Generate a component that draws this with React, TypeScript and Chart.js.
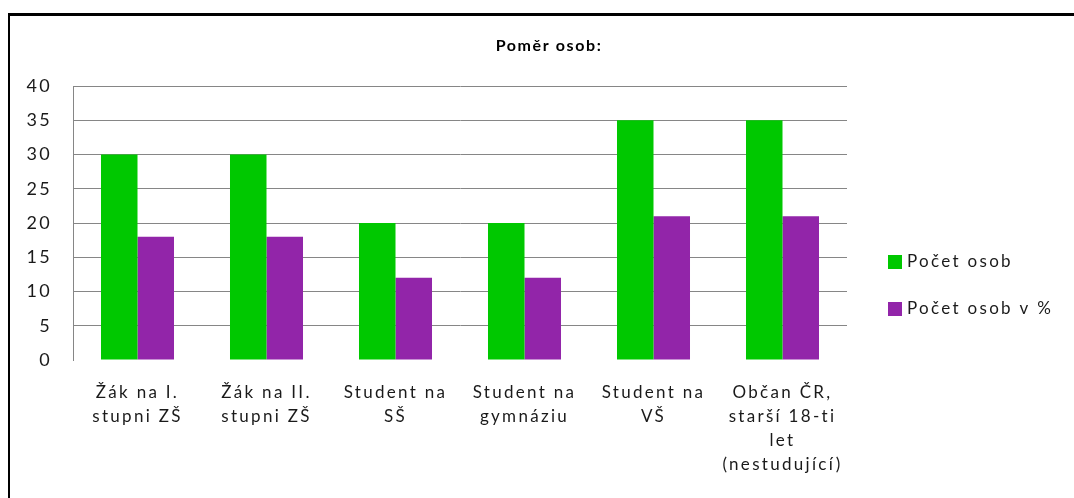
import React, { useEffect, useRef } from "react";
import { Chart, registerables } from "chart.js";

Chart.register(...registerables);

const chartTitle = "Poměr osob:";
const categories: string[][] = [
  ["Žák na I.", "stupni ZŠ"],
  ["Žák na II.", "stupni ZŠ"],
  ["Student na", "SŠ"],
  ["Student na", "gymnáziu"],
  ["Student na", "VŠ"],
  ["Občan ČR,", "starší 18-ti", "let", "(nestudující)"],
];
const seriesNames = ["Počet osob", "Počet osob v %"];
const countValues = [30, 30, 20, 20, 35, 35];
const percentValues = [18, 18, 12, 12, 21, 21];
const seriesColors = ["#00C800", "#9225A9"];
const yMin = 0;
const yMax = 40;
const yStep = 5;

const FONT = "Lato, 'Open Sans', sans-serif";
const SPACING = "2.3px";

const spacingPlugin = {
  id: "spacing",
  beforeUpdate(chart: any) {
    chart.ctx.letterSpacing = SPACING;
  },
  beforeLayout(chart: any) {
    chart.ctx.letterSpacing = SPACING;
  },
  beforeDraw(chart: any) {
    chart.ctx.letterSpacing = SPACING;
  },
};

const customTitleLegend = {
  id: "customTitleLegend",
  afterDraw(chart: any) {
    const ctx = chart.ctx;
    ctx.save();
    // title
    ctx.letterSpacing = "1.6px";
    ctx.fillStyle = "#000";
    ctx.font = `bold 16px ${FONT}`;
    ctx.textAlign = "center";
    ctx.textBaseline = "middle";
    ctx.fillText(chartTitle, 549, 46);
    // legend
    ctx.letterSpacing = SPACING;
    const rows = [255, 302];
    chart.data.datasets.forEach((ds: any, i: number) => {
      const y = rows[i];
      ctx.fillStyle = ds.backgroundColor;
      ctx.fillRect(888, y, 14, 14);
      ctx.fillStyle = "#1a1a1a";
      ctx.font = `17px ${FONT}`;
      ctx.textAlign = "left";
      ctx.textBaseline = "middle";
      ctx.fillText(ds.label, 907, y + 7);
    });
    ctx.restore();
  },
};

export default function App() {
  const ref = useRef<HTMLCanvasElement | null>(null);
  useEffect(() => {
    if (!ref.current) return;
    const chart = new Chart(ref.current, {
      type: "bar",
      data: {
        labels: categories,
        datasets: [
          {
            label: seriesNames[0],
            data: countValues,
            backgroundColor: seriesColors[0],
            categoryPercentage: 0.566,
            barPercentage: 1,
          },
          {
            label: seriesNames[1],
            data: percentValues,
            backgroundColor: seriesColors[1],
            categoryPercentage: 0.566,
            barPercentage: 1,
          },
        ],
      },
      options: {
        responsive: false,
        animation: false,
        layout: { padding: { left: 0, right: 227, top: 86, bottom: 0 } },
        plugins: {
          legend: { display: false },
          tooltip: { enabled: false },
          title: { display: false },
        },
        scales: {
          x: {
            grid: { display: false },
            border: { display: false },
            ticks: {
              color: "#1a1a1a",
              font: { family: FONT, size: 17, lineHeight: 1.41 },
              padding: 13,
              maxRotation: 0,
              autoSkip: false,
            },
            afterFit(scale: any) {
              scale.height = 138;
            },
          },
          y: {
            min: yMin,
            max: yMax,
            grid: {
              color: (c: any) => (c.tick && c.tick.value === 0 ? "rgba(0,0,0,0)" : "#868686"),
              lineWidth: 1,
              drawTicks: false,
            },
            border: { display: true, color: "#868686", width: 1 },
            ticks: {
              stepSize: yStep,
              color: "#1a1a1a",
              font: { family: FONT, size: 18 },
              padding: 21,
            },
            afterFit(scale: any) {
              scale.width = 73;
            },
          },
        },
      },
      plugins: [spacingPlugin, customTitleLegend],
    });
    return () => chart.destroy();
  }, []);

  return (
    <div style={{ position: "absolute", left: 0, top: 0, width: 1074, height: 498, background: "#fff" }}>
      <div
        style={{
          position: "absolute",
          left: 8,
          top: 13,
          width: 1066,
          height: 485,
          borderTop: "3px solid #000",
          borderLeft: "2px solid #000",
          boxSizing: "border-box",
        }}
      />
      <canvas ref={ref} width={1074} height={498} style={{ position: "absolute", left: 0, top: 0 }} />
    </div>
  );
}
